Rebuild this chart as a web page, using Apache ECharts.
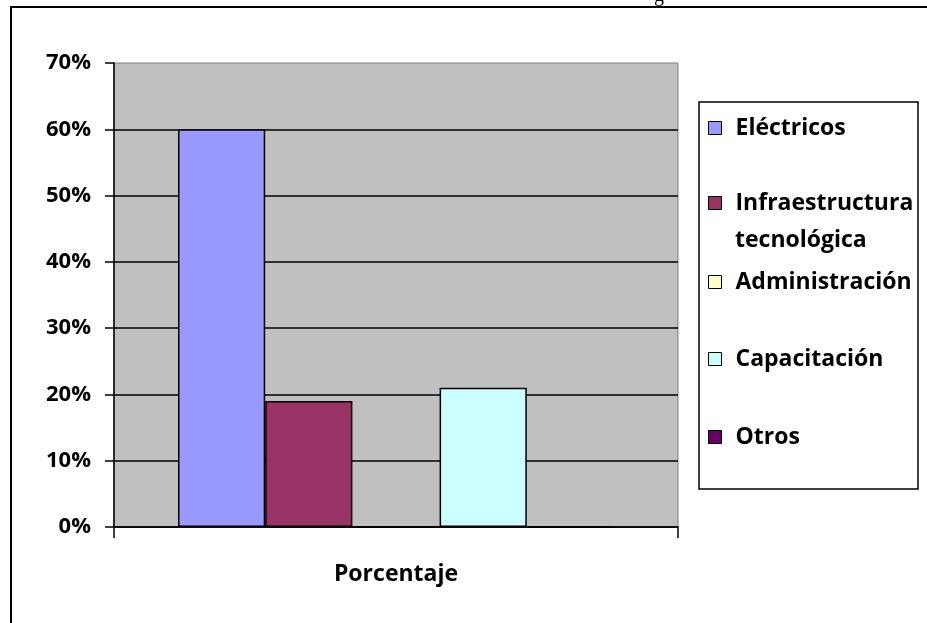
<!DOCTYPE html>
<html>
<head>
<meta charset="utf-8">
<script src="https://cdn.jsdelivr.net/npm/echarts@6/dist/echarts.min.js"></script>
<style>
  html, body { margin: 0; padding: 0; background: #fff; }
  #chart { width: 927px; height: 623px; }
</style>
</head>
<body>
<div id="chart"></div>
<script>
// Distribución porcentual por rubro
const categories = ['Porcentaje'];
const seriesNames = ['Eléctricos', 'Infraestructura tecnológica', 'Administración', 'Capacitación', 'Otros'];
const seriesValues = [0.60, 0.19, 0, 0.21, 0];
const seriesColors = ['#9999FF', '#993366', '#FFFFCC', '#CCFFFF', '#660066'];
const yTicks = [0, 0.1, 0.2, 0.3, 0.4, 0.5, 0.6, 0.7];

const FONT = '"Open Sans", sans-serif';
const LEGEND_SIZE = 23;
const chart = echarts.init(document.getElementById('chart'), null, { renderer: 'canvas' });

// legend rows: icon centre y for each entry
const legendRows = [128, 203, 282, 359, 437];
const ROW_H = 28;

// the long entry wraps: first word beside its swatch, the rest on a second line
const legendLabel = name => name === 'Infraestructura tecnológica' ? 'Infraestructura' : name;

const legends = seriesNames.map((name, i) => ({
  data: [name],
  selectedMode: false,
  orient: 'vertical',
  left: 708,
  top: legendRows[i] - ROW_H / 2,
  padding: 0,
  icon: 'rect',
  itemWidth: 13,
  itemHeight: 13,
  itemStyle: { borderColor: '#000', borderWidth: 1 },
  formatter: legendLabel,
  textStyle: {
    fontFamily: FONT,
    fontWeight: 'bold',
    fontSize: LEGEND_SIZE,
    color: '#000',
    lineHeight: ROW_H,
    padding: [0, 0, 0, 9]
  }
}));

const option = {
  animation: false,
  backgroundColor: '#fff',
  grid: {
    left: 114, right: 249, top: 63, bottom: 96,
    show: true,
    backgroundColor: '#C0C0C0',
    borderColor: '#808080',
    borderWidth: 1
  },
  legend: legends,
  xAxis: {
    type: 'category',
    data: categories,
    axisLine: { lineStyle: { color: '#000', width: 1.5 } },
    axisTick: { show: true, length: 11, lineStyle: { color: '#000', width: 1.5 } },
    axisLabel: {
      margin: 36,
      fontFamily: FONT, fontWeight: 'bold', fontSize: 23, color: '#000'
    }
  },
  yAxis: {
    type: 'value',
    min: yTicks[0],
    max: yTicks[yTicks.length - 1],
    interval: 0.1,
    axisLine: { show: true, lineStyle: { color: '#000', width: 1.5 } },
    axisTick: { show: true, length: 9, lineStyle: { color: '#000', width: 1.5 } },
    axisLabel: {
      margin: 23,
      fontFamily: FONT, fontWeight: 'bold', fontSize: 22, color: '#000',
      formatter: v => Math.round(v * 100) + '%'
    },
    splitLine: { show: true, showMaxLine: false, lineStyle: { color: '#000', width: 1.5 } }
  },
  series: seriesNames.map((name, i) => ({
    name: name,
    type: 'bar',
    data: [seriesValues[i]],
    barGap: '0%',
    barCategoryGap: '22.7%',
    itemStyle: { color: seriesColors[i], borderColor: '#000', borderWidth: 1.5 }
  })),
  graphic: [
    {
      type: 'rect', z: -1,
      shape: { x: 699, y: 102, width: 219, height: 387 },
      style: { fill: 'none', stroke: '#000', lineWidth: 1.5 }
    },
    {
      type: 'text', z: 10,
      x: 735, y: 240,
      style: {
        text: 'tecnológica', fill: '#000',
        font: 'bold ' + LEGEND_SIZE + 'px ' + FONT,
        verticalAlign: 'middle'
      }
    },
    {
      type: 'polyline', z: 10,
      shape: { points: [[11, 623], [11, 7], [927, 7]] },
      style: { fill: 'none', stroke: '#000', lineWidth: 2 }
    },
    {
      type: 'text', z: 10,
      x: 654, y: 6,
      style: {
        text: 'g', fill: '#000',
        font: '20px "Liberation Serif", serif',
        verticalAlign: 'bottom'
      }
    }
  ]
};

chart.setOption(option);
</script>
</body>
</html>
